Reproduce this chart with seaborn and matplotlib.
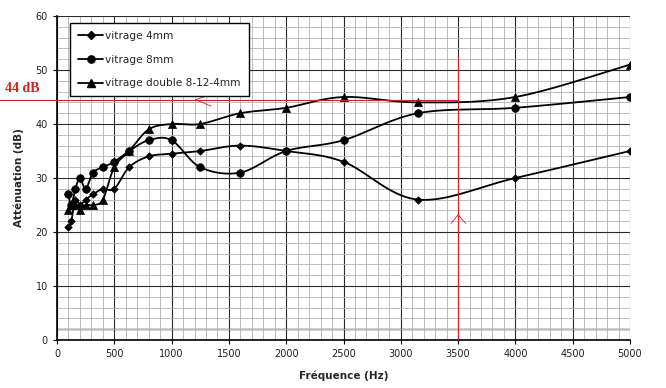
import numpy as np
import pandas as pd
import matplotlib
matplotlib.use("Agg")
import matplotlib.pyplot as plt
import seaborn as sns
from matplotlib.lines import Line2D

# Fréquences de tiers d'octave (Hz)
freq = [100, 125, 160, 200, 250, 315, 400, 500, 630, 800, 1000,
        1250, 1600, 2000, 2500, 3150, 4000, 5000]

# Atténuation (dB)
vitrage_4mm = [21, 22, 26, 25, 26, 27, 28, 28, 32, 34, 34.5,
               35, 36, 35, 33, 26, 30, 35]
vitrage_8mm = [27, 25, 28, 30, 28, 31, 32, 33, 35, 37, 37,
               32, 31, 35, 37, 42, 43, 45]
vitrage_double = [24, 25, 25, 24, 25, 25, 26, 32, 35, 39, 40,
                  40, 42, 43, 45, 44, 45, 51]

labels = ["vitrage 4mm", "vitrage 8mm", "vitrage double 8-12-4mm"]
markers = ["D", "o", "^"]
msizes = [3.8, 5.5, 5.8]

# Repères rouges
seuil_db = 44.5
freq_lue = 3500

df = pd.DataFrame({
    "freq": freq * 3,
    "att": vitrage_4mm + vitrage_8mm + vitrage_double,
    "serie": sum([[l] * len(freq) for l in labels], []),
})


def smooth_path(x, y, sx, sy, n=20):
    # courbe lissée type tableur (Bézier, tension 1/6) calculée en espace écran
    p = np.column_stack([np.asarray(x) * sx, np.asarray(y) * sy])
    out = []
    for i in range(len(p) - 1):
        p0 = p[i - 1] if i > 0 else p[i]
        p3 = p[i + 2] if i + 2 < len(p) else p[i + 1]
        c1 = p[i] + (p[i + 1] - p0) / 6
        c2 = p[i + 1] - (p3 - p[i]) / 6
        t = np.linspace(0, 1, n)[:, None]
        seg = ((1 - t) ** 3 * p[i] + 3 * (1 - t) ** 2 * t * c1
               + 3 * (1 - t) * t ** 2 * c2 + t ** 3 * p[i + 1])
        out.append(seg if i == 0 else seg[1:])
    out = np.vstack(out)
    return out[:, 0] / sx, out[:, 1] / sy


sns.set_style("white")
plt.rcParams["font.family"] = ["DejaVu Sans"]

fig = plt.figure(figsize=(6.66, 3.88), dpi=100)
ax = fig.add_axes([57 / 666, 1 - 340 / 388, 573 / 666, 324 / 388])

ax.set_xlim(0, 5000)
ax.set_ylim(0, 60)
ax.set_xticks(np.arange(0, 5001, 500))
ax.set_yticks(np.arange(0, 61, 10))
ax.set_xticks(np.arange(0, 5001, 100), minor=True)
ax.set_yticks(np.arange(0, 61, 2), minor=True)
ax.grid(which="minor", color="#b2b2b2", lw=0.6)
ax.grid(which="major", color="#2a2a2a", lw=0.8)
ax.set_axisbelow(True)
ax.axhline(2, color="#d4d4d4", lw=2.2, zorder=0.5)

sx, sy = 573 / 5000, 324 / 60
for lab, mk, ms in zip(labels, markers, msizes):
    sub = df[df["serie"] == lab]
    xs, ys = smooth_path(sub["freq"].values, sub["att"].values, sx, sy)
    ax.plot(xs, ys, color="black", lw=1.3, zorder=3)
    sns.scatterplot(x=sub["freq"], y=sub["att"], marker=mk, s=ms ** 2,
                    color="black", edgecolor="black", linewidth=0.5,
                    ax=ax, zorder=4, legend=False)

for s in ["left", "bottom"]:
    ax.spines[s].set_color("black")
    ax.spines[s].set_linewidth(1.2)
for s in ["top", "right"]:
    ax.spines[s].set_visible(False)

ax.tick_params(axis="both", which="major", labelsize=7, length=3,
               color="black", labelcolor="#202020", direction="out",
               left=True, bottom=True)
ax.tick_params(axis="both", which="minor", length=0)
ax.set_xlabel("Fréquence (Hz)", fontsize=7.5, fontweight="bold", labelpad=8)
ax.set_ylabel("Atténuation (dB)", fontsize=7.5, fontweight="bold", labelpad=8)

# Légende encadrée
handles = [Line2D([0], [0], color="black", lw=1.3, marker=mk,
                  markersize=ms * 0.95) for mk, ms in zip(markers, msizes)]
leg = ax.legend(handles, labels, loc="upper left",
                bbox_to_anchor=(13 / 573, 1 - 7 / 324), fontsize=7.6,
                frameon=True, fancybox=False, edgecolor="black",
                framealpha=1, labelspacing=1.3, handlelength=2.4,
                handletextpad=0.2, borderpad=0.75, borderaxespad=0)
leg.get_frame().set_linewidth(1.0)

# Repères rouges : 44 dB et 3500 Hz
red = "#d42020"
ax.plot([-550, freq_lue], [seuil_db, seuil_db], color=red, lw=0.8,
        clip_on=False, zorder=5)
ax.plot([freq_lue, freq_lue], [0, 52.5], color=red, lw=0.8, zorder=5)
ax.plot([1345, 1210, 1345], [45.5, 44.5, 43.3], color=red, lw=0.6, zorder=5)
ax.plot([3440, 3500, 3565], [21.6, 23.2, 21.6], color=red, lw=0.6, zorder=5)
fig.text(5 / 666, 1 - 88 / 388, "44 dB", color=red, fontsize=10,
         fontweight="bold", family=["Liberation Serif", "DejaVu Serif"],
         va="center", ha="left")

fig.savefig("out.png", dpi=100)
